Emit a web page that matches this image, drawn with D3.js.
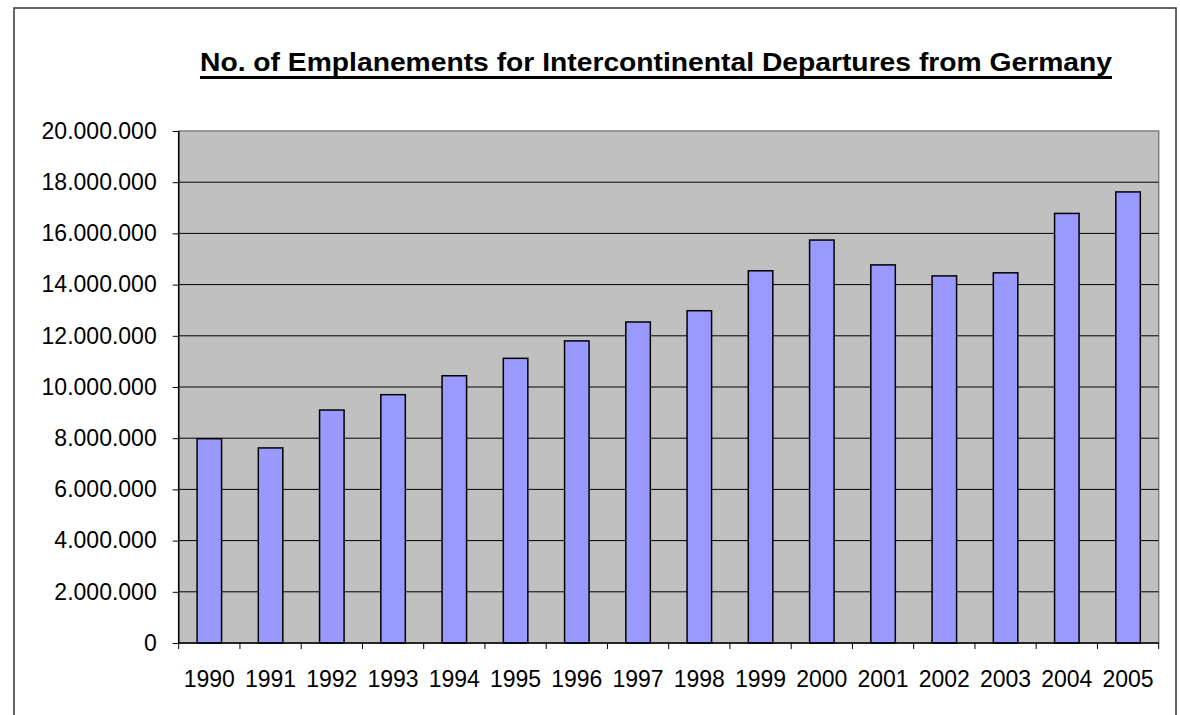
<!DOCTYPE html>
<html><head><meta charset="utf-8">
<script src="https://cdn.jsdelivr.net/npm/d3@7"></script>
<style>html,body{margin:0;padding:0;background:#fff;}svg{display:block;}</style>
</head><body>
<svg id="chart" width="1180" height="715"></svg>
<script>
const years = ["1990","1991","1992","1993","1994","1995","1996","1997","1998","1999","2000","2001","2002","2003","2004","2005"];
const emplanements = [7980000,7620000,9100000,9700000,10440000,11120000,11800000,12540000,12980000,14540000,15740000,14770000,14340000,14460000,16780000,17620000];
const yTicks = [0,2000000,4000000,6000000,8000000,10000000,12000000,14000000,16000000,18000000,20000000];
const title = "No. of Emplanements for Intercontinental Departures from Germany";

const svg = d3.select("#chart");
const font = "'Liberation Sans', Arial, sans-serif";
const L = 178.7, R = 1158.7, T = 131, B = 643;

// outer frame
svg.append("rect").attr("x",14).attr("y",8).attr("width",1162).attr("height",720)
  .attr("fill","#fff").attr("stroke","#333").attr("stroke-width",1.5);

const x = d3.scaleBand().domain(years).range([L,R]).paddingInner(0.6).paddingOuter(0.3);
const y = d3.scaleLinear().domain([0,20000000]).range([B,T]);

// plot background
svg.append("rect").attr("x",L).attr("y",T).attr("width",R-L).attr("height",B-T)
  .attr("fill","#C0C0C0").attr("stroke","#808080").attr("stroke-width",1.5);

// gridlines
svg.append("g").selectAll("line").data(yTicks.filter(d=>d>0 && d<20000000)).join("line")
  .attr("x1",L).attr("x2",R).attr("y1",d=>y(d)).attr("y2",d=>y(d))
  .attr("stroke","#000").attr("stroke-width",1);

// bars
svg.append("g").selectAll("rect").data(years).join("rect")
  .attr("x",(d)=>x(d)).attr("width",x.bandwidth())
  .attr("y",(d,i)=>y(emplanements[i])).attr("height",(d,i)=>B-y(emplanements[i]))
  .attr("fill","#9999FF").attr("stroke","#000").attr("stroke-width",1.5);

// y axis
const fmt = v => v===0 ? "0" : d3.format(",")(v).replace(/,/g,".");
const yAxis = d3.axisLeft(y).tickValues(yTicks).tickFormat(fmt).tickSize(6).tickPadding(16);
const ya = svg.append("g").attr("transform",`translate(${L},0)`).call(yAxis);
ya.select(".domain").attr("stroke","#000").attr("stroke-width",1.5).attr("d",`M0,${T}V${B}`);
ya.selectAll(".tick line").attr("stroke","#000");
ya.selectAll("text").attr("font-family",font).attr("font-size",23).attr("fill","#000");

// x axis
const xa = svg.append("g").attr("transform",`translate(0,${B})`);
xa.append("line").attr("x1",L).attr("x2",R).attr("stroke","#000").attr("stroke-width",1.5);
const step = x.step();
const bounds = d3.range(years.length+1).map(i=>L+i*step);
xa.selectAll("line.tk").data(bounds).join("line").attr("class","tk")
  .attr("x1",d=>d).attr("x2",d=>d).attr("y1",0).attr("y2",6).attr("stroke","#000");
xa.selectAll("text").data(years).join("text")
  .attr("x",d=>x(d)+x.bandwidth()/2).attr("y",44)
  .attr("text-anchor","middle").attr("font-family",font).attr("font-size",23).attr("fill","#000")
  .text(d=>d);

// title
svg.append("text").attr("x",656).attr("y",71).attr("text-anchor","middle")
  .attr("font-family",font).attr("font-size",26).attr("font-weight","bold").attr("fill","#000")
  .attr("textLength",912).attr("lengthAdjust","spacingAndGlyphs").text(title);
svg.append("line").attr("x1",200).attr("x2",1112).attr("y1",77.5).attr("y2",77.5)
  .attr("stroke","#000").attr("stroke-width",3);
</script>
</body></html>
